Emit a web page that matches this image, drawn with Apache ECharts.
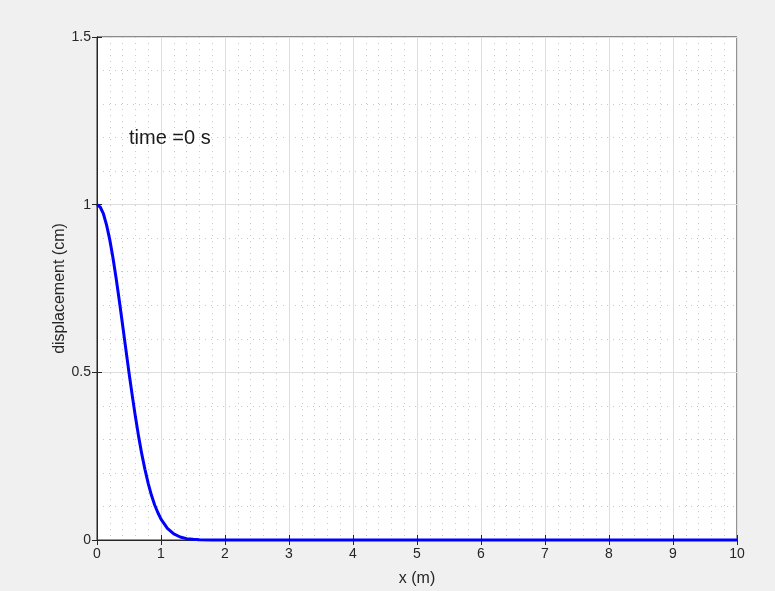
<!DOCTYPE html>
<html><head><meta charset="utf-8">
<script src="https://cdn.jsdelivr.net/npm/echarts@6/dist/echarts.min.js"></script>
<style>html,body{margin:0;padding:0;background:#f0f0f0}#c{width:775px;height:591px}</style>
</head><body><div id="c"></div>
<script>
const xValues = [0,0.05,0.1,0.15,0.2,0.25,0.3,0.35,0.4,0.45,0.5,0.55,0.6,0.65,0.7,0.75,0.8,0.85,0.9,0.95,1.0,1.1,1.2,1.3,1.4,1.5,1.6,1.8,2.0,3,4,5,6,7,8,9,10];
const displacement = [1,0.993,0.973,0.939,0.895,0.841,0.779,0.712,0.641,0.570,0.499,0.432,0.368,0.309,0.256,0.210,0.169,0.134,0.105,0.082,0.062,0.035,0.018,0.009,0.004,0.002,0.001,0.0001,0,0,0,0,0,0,0,0,0];
const timeLabel = 'time =0 s';
const font = 'Liberation Sans, Arial, sans-serif';
const axisColor = '#262626';
const chart = echarts.init(document.getElementById('c'));
const baseAxis = {
  axisLine:{show:true,lineStyle:{color:axisColor,width:1}},
  axisTick:{show:true,inside:true,length:5,lineStyle:{color:axisColor}},
  axisLabel:{color:axisColor,fontFamily:font,fontSize:14},
  splitLine:{show:true,lineStyle:{color:'#dedede',width:1}},
  minorTick:{show:true,splitNumber:5,length:0},
  minorSplitLine:{show:true,lineStyle:{color:'#c8c8c8',type:[1,5],width:1}}
};
chart.setOption({
  backgroundColor:'#f0f0f0',
  animation:false,
  grid:{left:97,right:38,top:37,bottom:51,outerBoundsMode:'none',containLabel:false,show:true,backgroundColor:'#ffffff',borderColor:axisColor,borderWidth:1},
  graphic:[{type:'text',z:100,left:129,top:128,style:{text:timeLabel,fontFamily:font,fontSize:20,fill:'#1a1a1a'}}],
  xAxis:[
    Object.assign({},baseAxis,{type:'value',min:0,max:10,interval:1,position:'bottom',
      name:'x (m)',nameLocation:'middle',nameGap:39,nameMoveOverlap:false,nameTextStyle:{color:axisColor,fontFamily:font,fontSize:16,verticalAlign:'middle'},
      axisLabel:Object.assign({},baseAxis.axisLabel,{margin:7})}),
    {type:'value',min:0,max:10,interval:1,position:'top',axisLine:{show:true,lineStyle:{color:axisColor}},
      axisTick:{show:true,inside:true,length:5,lineStyle:{color:axisColor}},axisLabel:{show:false},splitLine:{show:false}}
  ],
  yAxis:[
    Object.assign({},baseAxis,{type:'value',min:0,max:1.5,interval:0.5,position:'left',
      name:'displacement (cm)',nameLocation:'middle',nameGap:29,nameMoveOverlap:false,nameTextStyle:{color:axisColor,fontFamily:font,fontSize:16},
      axisLabel:Object.assign({},baseAxis.axisLabel,{margin:6})}),
    {type:'value',min:0,max:1.5,interval:0.5,position:'right',axisLine:{show:true,lineStyle:{color:axisColor}},
      axisTick:{show:true,inside:true,length:5,lineStyle:{color:axisColor}},axisLabel:{show:false},splitLine:{show:false}}
  ],
  series:[{type:'line',xAxisIndex:0,yAxisIndex:0,data:xValues.map((x,i)=>[x,displacement[i]]),
    showSymbol:false,smooth:false,lineStyle:{color:'#0000ff',width:3},clip:false}]
});
</script></body></html>
